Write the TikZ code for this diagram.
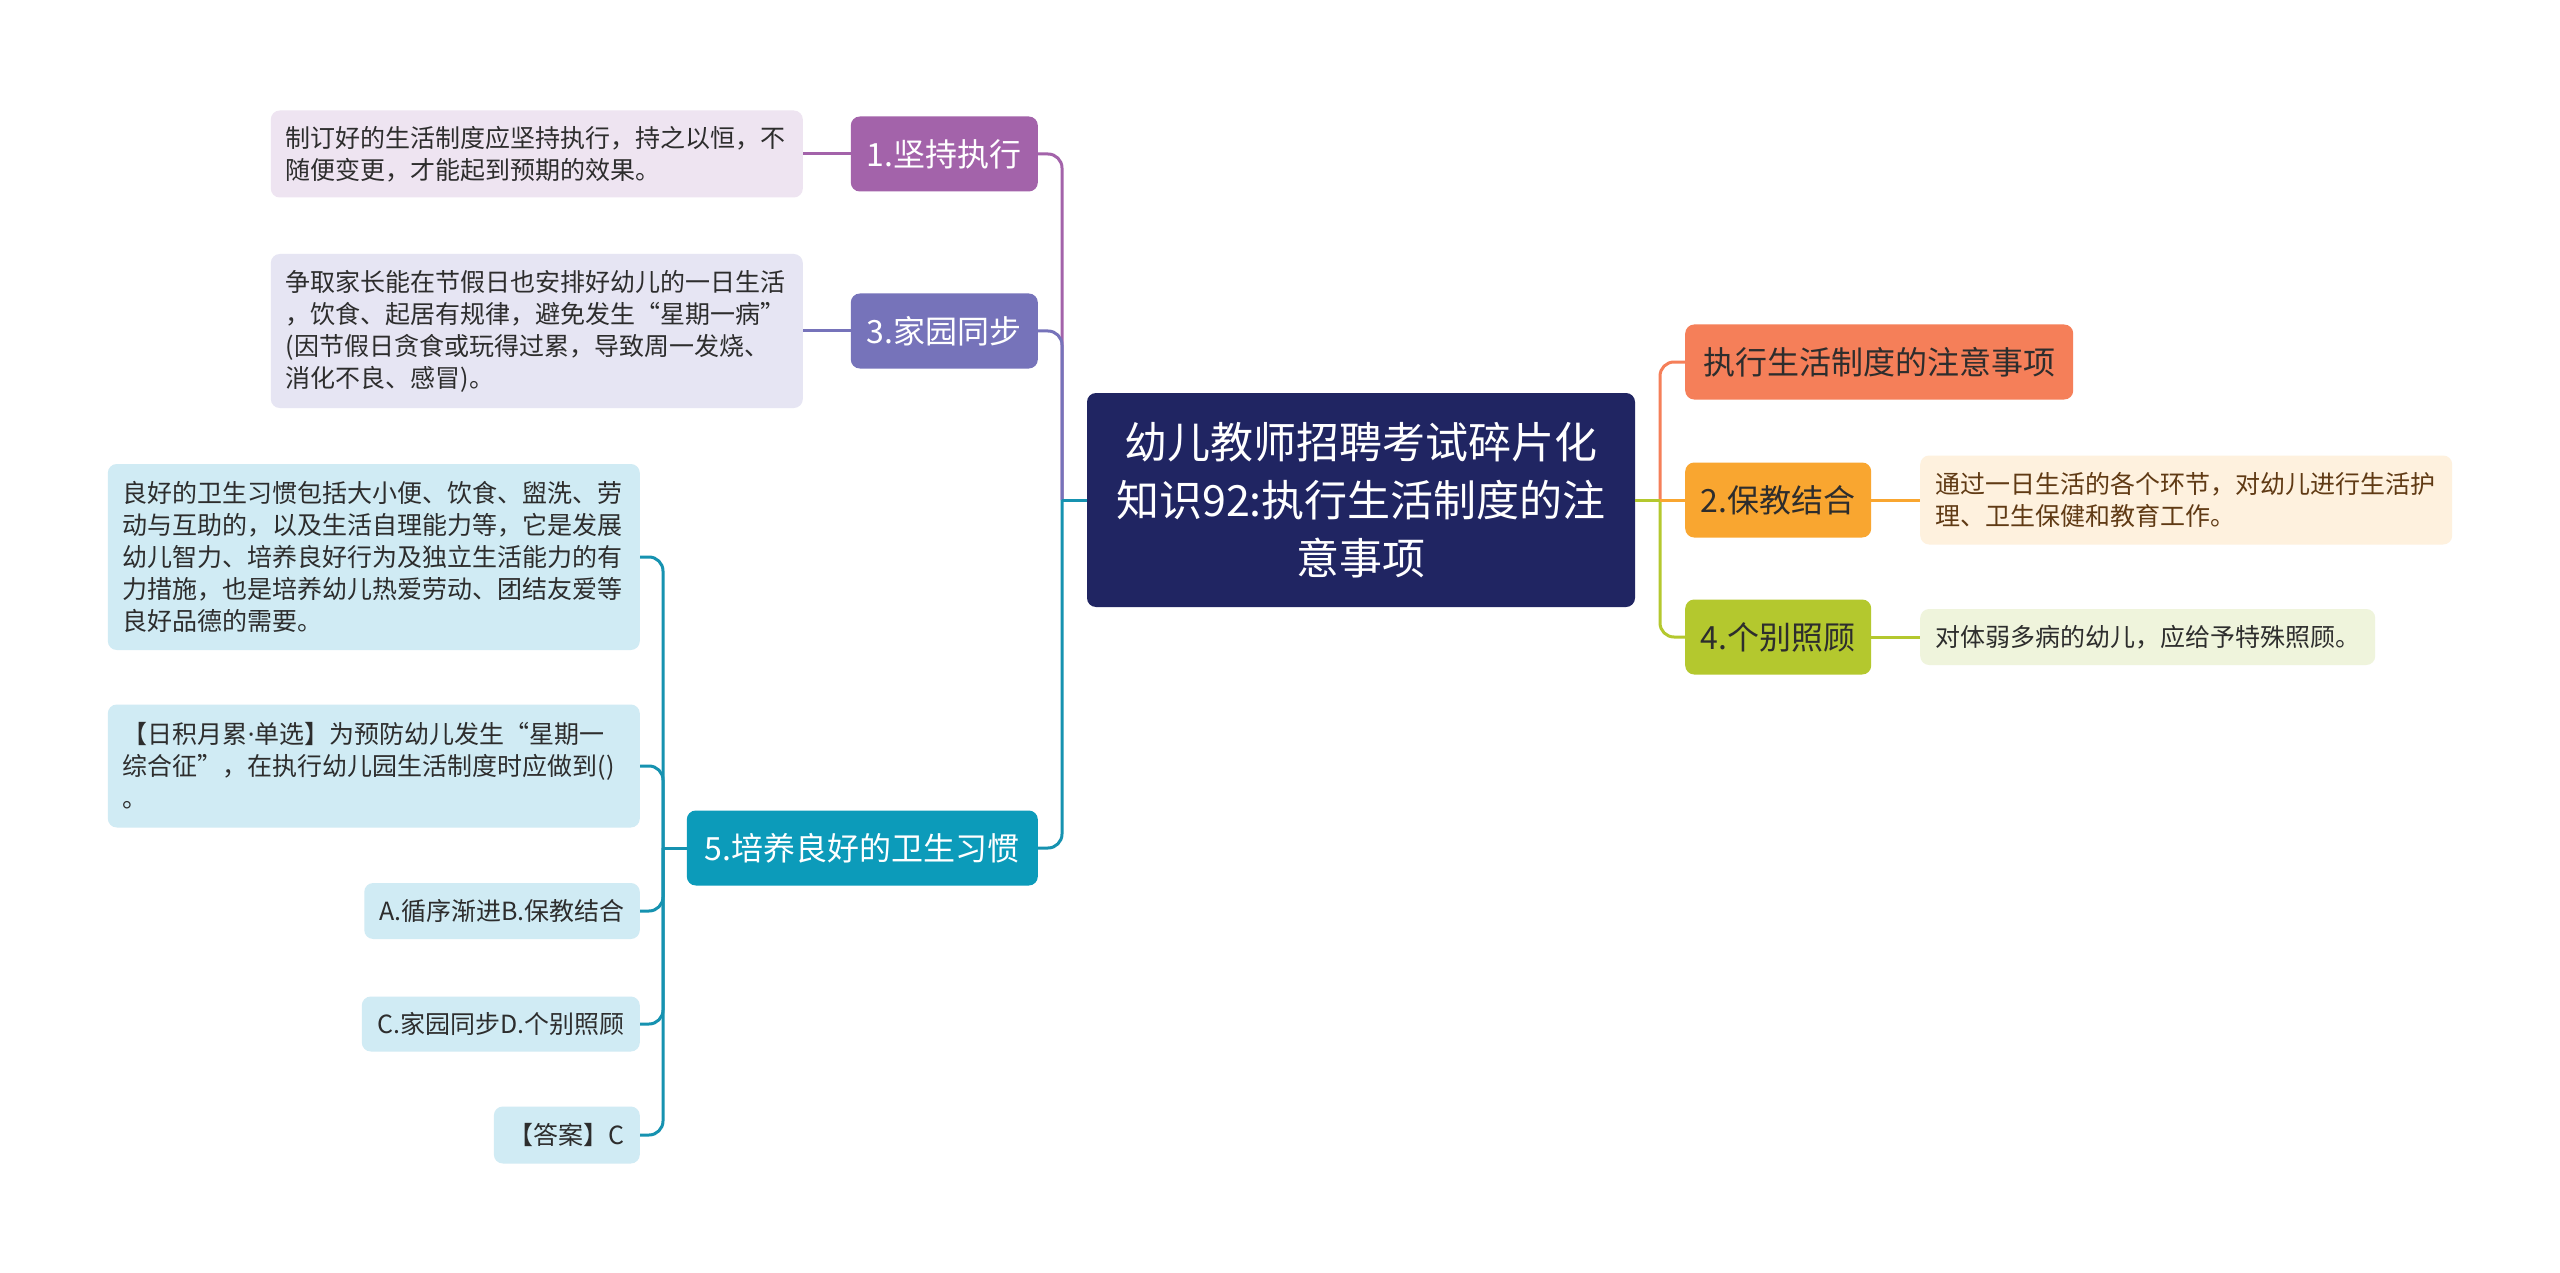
\documentclass[tikz,border=0pt]{standalone}
\usepackage{fontspec}
\setmainfont{Noto Sans CJK SC}
\newfontfamily\latinface{Noto Sans}
\usepackage{tikz}
\usetikzlibrary{positioning,calc}
\definecolor{RootNavy}{RGB}{32,37,98}
\definecolor{PlumTop}{RGB}{163,99,170}
\definecolor{PlumLight}{RGB}{238,228,241}
\definecolor{IrisTop}{RGB}{118,115,186}
\definecolor{IrisLight}{RGB}{230,229,243}
\definecolor{TealTop}{RGB}{12,155,186}
\definecolor{TealLine}{RGB}{22,146,176}
\definecolor{TealLight}{RGB}{208,235,244}
\definecolor{CoralTop}{RGB}{245,127,89}
\definecolor{AmberTop}{RGB}{249,166,48}
\definecolor{AmberLight}{RGB}{254,241,222}
\definecolor{LimeTop}{RGB}{180,200,46}
\definecolor{LimeLight}{RGB}{239,244,220}
\definecolor{InkDark}{RGB}{45,45,45}
\definecolor{InkBrown}{RGB}{96,58,20}

\begin{document}
\begin{tikzpicture}[x=1pt,y=-1pt,
  box/.style={rectangle,rounded corners=9pt,inner sep=0pt,align=center},
  hub/.style={box,fill=RootNavy,text=white,minimum width=548pt,minimum height=214pt,
    font=\fontsize{43}{58}\selectfont},
  topic/.style={box,minimum height=75pt,font=\fontsize{32}{40}\selectfont},
  note/.style={box,inner xsep=15pt,text=InkDark,font=\fontsize{25}{32}\selectfont},
  wide/.style={note,text width=502pt,align=left},
  link/.style={line width=3pt},
  elbow/.style={link,rounded corners=14pt}
]
  \useasboundingbox[fill=white] (0,0) rectangle (2560,1273);

  % centre
  \node[hub] (root) at (1361,500) {幼儿教师招聘考试碎片化\\知识92:执行生活制度的注\\意事项};

  % left topics
  \node[topic,anchor=east,fill=PlumTop,text=white,minimum width=187pt] (t1) at (1038,154) {1.坚持执行};
  \node[topic,anchor=east,fill=IrisTop,text=white,minimum width=187pt] (t3) at (1038,331) {3.家园同步};
  \node[topic,anchor=east,fill=TealTop,text=white,minimum width=351pt] (t5) at (1038,848) {5.培养良好的卫生习惯};

  % right topics
  \node[topic,anchor=west,fill=CoralTop,text=InkDark,minimum width=388pt] (t0) at (1685,362) {执行生活制度的注意事项};
  \node[topic,anchor=west,fill=AmberTop,text=InkDark,minimum width=186pt] (t2) at (1685,500) {2.保教结合};
  \node[topic,anchor=west,fill=LimeTop,text=InkDark,minimum width=186pt] (t4) at (1685,637) {4.个别照顾};

  % notes
  \node[wide,anchor=east,fill=PlumLight,minimum height=87pt] (d1) at (803,154)
    {制订好的生活制度应坚持执行，持之以恒，不\\随便变更，才能起到预期的效果。};
  \node[wide,anchor=east,fill=IrisLight,minimum height=154pt] (d3) at (803,331)
    {争取家长能在节假日也安排好幼儿的一日生活\\，饮食、起居有规律，避免发生“星期一病”\\(因节假日贪食或玩得过累，导致周一发烧、\\消化不良、感冒)。};
  \node[wide,anchor=east,fill=TealLight,minimum height=186pt] (d5a) at (640,557)
    {良好的卫生习惯包括大小便、饮食、盥洗、劳\\动与互助的，以及生活自理能力等，它是发展\\幼儿智力、培养良好行为及独立生活能力的有\\力措施，也是培养幼儿热爱劳动、团结友爱等\\良好品德的需要。};
  \node[wide,anchor=east,fill=TealLight,minimum height=123pt] (d5b) at (640,766)
    {【日积月累{\latinface ·}单选】为预防幼儿发生“星期一\\综合征”，在执行幼儿园生活制度时应做到()\\。};
  \node[note,anchor=east,fill=TealLight,minimum width=274pt,minimum height=56pt] (d5c) at (640,911) {A.循序渐进B.保教结合};
  \node[note,anchor=east,fill=TealLight,minimum width=278pt,minimum height=55pt] (d5d) at (640,1024) {C.家园同步D.个别照顾};
  \node[note,anchor=east,fill=TealLight,minimum width=144pt,minimum height=57pt] (d5e) at (640,1135) {【答案】C};
  \node[wide,anchor=west,fill=AmberLight,text=InkBrown,minimum height=89pt] (d2) at (1920,500)
    {通过一日生活的各个环节，对幼儿进行生活护\\理、卫生保健和教育工作。};
  \node[note,anchor=west,fill=LimeLight,minimum width=454pt,minimum height=56pt] (d4) at (1920,637) {对体弱多病的幼儿，应给予特殊照顾。};

  % connectors, left
  \coordinate (jl) at (1062,500);
  \draw[elbow,PlumTop] (jl) |- (t1.east);
  \draw[elbow,IrisTop] (jl) |- (t3.east);
  \draw[elbow,TealLine] (jl) |- (t5.east);
  \draw[link,TealLine] (root.west) -- (jl);

  % connectors, right
  \coordinate (jr) at (1660,500);
  \draw[elbow,CoralTop] (jr) |- (t0.west);
  \draw[elbow,LimeTop] (jr) |- (t4.west);
  \draw[link,LimeTop] (root.east) -- (jr);
  \draw[link,AmberTop] (jr) -- (t2.west);

  % topic to note
  \draw[link,PlumTop] (t1.west) -- (d1.east);
  \draw[link,IrisTop] (t3.west) -- (d3.east);
  \draw[link,AmberTop] (t2.east) -- (d2.west);
  \draw[link,LimeTop] (t4.east) -- (d4.west);

  \coordinate (j5) at (663,848);
  \draw[link,TealLine] (t5.west) -- (j5);
  \draw[elbow,TealLine] (j5) |- (d5a.east);
  \draw[elbow,TealLine] (j5) |- (d5b.east);
  \draw[elbow,TealLine] (j5) |- (d5c.east);
  \draw[elbow,TealLine] (j5) |- (d5d.east);
  \draw[elbow,TealLine] (j5) |- (d5e.east);
\end{tikzpicture}
\end{document}
